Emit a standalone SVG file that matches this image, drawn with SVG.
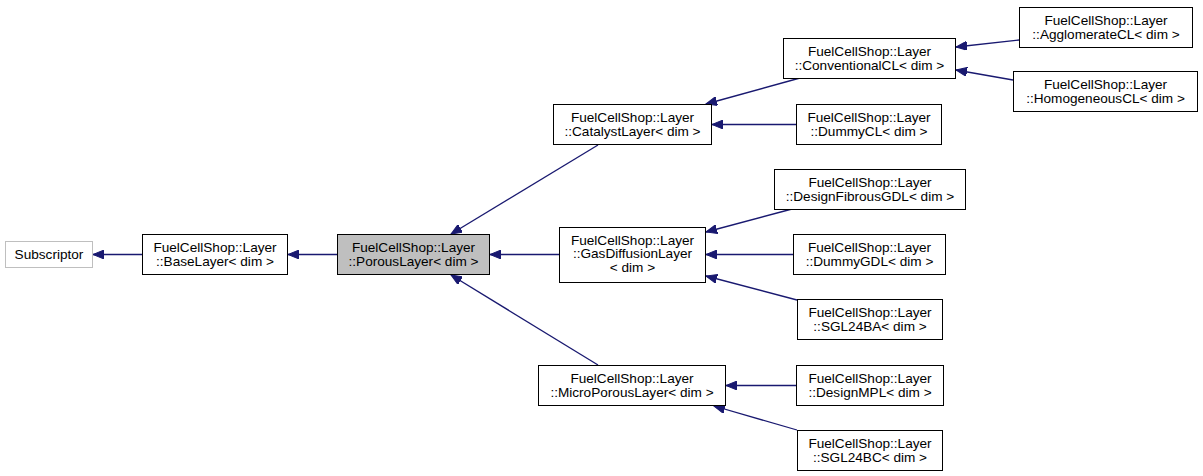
<svg xmlns="http://www.w3.org/2000/svg" width="1203" height="476" viewBox="0 0 1203 476">
<style>
.n{fill:#ffffff;stroke:#000000;stroke-width:1}
.g{fill:#bfbfbf;stroke:#000000;stroke-width:1}
.s{fill:#ffffff;stroke:#bfbfbf;stroke-width:1}
text{font-family:"Liberation Sans",Arial,sans-serif;font-size:13.6px;fill:#000000;text-anchor:middle}
.e{stroke:#191970;stroke-width:1.3;fill:none;marker-end:url(#arr)}
</style>
<defs>
<marker id="arr" markerUnits="userSpaceOnUse" markerWidth="12" markerHeight="9" refX="11" refY="4.5" orient="auto">
<path d="M0,0 L11,4.5 L0,9 z" fill="#191970" stroke="#191970" stroke-width="1"/>
</marker>
</defs>
<rect width="1203" height="476" fill="#ffffff"/>
<g id="edges">
<line class="e" x1="142" y1="254.5" x2="93" y2="254.5"/>
<line class="e" x1="337" y1="254.5" x2="288" y2="254.5"/>
<line class="e" x1="559" y1="254.5" x2="490" y2="254.5"/>
<line class="e" x1="598" y1="145" x2="451" y2="234"/>
<line class="e" x1="598" y1="365" x2="451" y2="275"/>
<line class="e" x1="800" y1="78" x2="706" y2="104"/>
<line class="e" x1="796" y1="124.5" x2="712" y2="124.5"/>
<line class="e" x1="1019" y1="40" x2="956" y2="47"/>
<line class="e" x1="1013" y1="80" x2="956" y2="70"/>
<line class="e" x1="792" y1="209" x2="706" y2="232"/>
<line class="e" x1="793" y1="254.5" x2="706" y2="254.5"/>
<line class="e" x1="797" y1="300" x2="706" y2="276"/>
<line class="e" x1="796" y1="385.5" x2="726" y2="385.5"/>
<line class="e" x1="797" y1="430" x2="714" y2="406"/>
</g>
<g id="Subscriptor">
<rect class="s" x="5.5" y="241.5" width="87" height="26"/>
<text x="49" y="259">Subscriptor</text>
</g>
<g id="BaseLayer">
<rect class="n" x="142.5" y="234.5" width="145" height="40"/>
<text x="215" y="252">FuelCellShop::Layer</text>
<text x="215" y="265.5">::BaseLayer&lt; dim &gt;</text>
</g>
<g id="PorousLayer">
<rect class="g" x="337.5" y="234.5" width="152" height="40"/>
<text x="413.5" y="252">FuelCellShop::Layer</text>
<text x="413.5" y="265.5">::PorousLayer&lt; dim &gt;</text>
</g>
<g id="CatalystLayer">
<rect class="n" x="553.5" y="104.5" width="158" height="40"/>
<text x="632.5" y="122">FuelCellShop::Layer</text>
<text x="632.5" y="135.5">::CatalystLayer&lt; dim &gt;</text>
</g>
<g id="ConventionalCL">
<rect class="n" x="783.5" y="38.5" width="172" height="40"/>
<text x="869.5" y="56">FuelCellShop::Layer</text>
<text x="869.5" y="69.5">::ConventionalCL&lt; dim &gt;</text>
</g>
<g id="DummyCL">
<rect class="n" x="796.5" y="104.5" width="145" height="40"/>
<text x="869" y="122">FuelCellShop::Layer</text>
<text x="869" y="135.5">::DummyCL&lt; dim &gt;</text>
</g>
<g id="AgglomerateCL">
<rect class="n" x="1019.5" y="7.5" width="173" height="40"/>
<text x="1106" y="25">FuelCellShop::Layer</text>
<text x="1106" y="38.5">::AgglomerateCL&lt; dim &gt;</text>
</g>
<g id="HomogeneousCL">
<rect class="n" x="1013.5" y="71.5" width="184" height="40"/>
<text x="1105.5" y="89">FuelCellShop::Layer</text>
<text x="1105.5" y="102.5">::HomogeneousCL&lt; dim &gt;</text>
</g>
<g id="GasDiffusionLayer">
<rect class="n" x="559.5" y="227.5" width="146" height="55"/>
<text x="632.5" y="244.5">FuelCellShop::Layer</text>
<text x="632.5" y="258">::GasDiffusionLayer</text>
<text x="632.5" y="271.5">&lt; dim &gt;</text>
</g>
<g id="DesignFibrousGDL">
<rect class="n" x="774.5" y="169.5" width="191" height="40"/>
<text x="870" y="187">FuelCellShop::Layer</text>
<text x="870" y="200.5">::DesignFibrousGDL&lt; dim &gt;</text>
</g>
<g id="DummyGDL">
<rect class="n" x="793.5" y="234.5" width="152" height="40"/>
<text x="869.5" y="252">FuelCellShop::Layer</text>
<text x="869.5" y="265.5">::DummyGDL&lt; dim &gt;</text>
</g>
<g id="SGL24BA">
<rect class="n" x="797.5" y="299.5" width="145" height="40"/>
<text x="870" y="317">FuelCellShop::Layer</text>
<text x="870" y="330.5">::SGL24BA&lt; dim &gt;</text>
</g>
<g id="MicroPorousLayer">
<rect class="n" x="538.5" y="365.5" width="187" height="40"/>
<text x="632" y="383">FuelCellShop::Layer</text>
<text x="632" y="396.5">::MicroPorousLayer&lt; dim &gt;</text>
</g>
<g id="DesignMPL">
<rect class="n" x="796.5" y="365.5" width="147" height="40"/>
<text x="870" y="383">FuelCellShop::Layer</text>
<text x="870" y="396.5">::DesignMPL&lt; dim &gt;</text>
</g>
<g id="SGL24BC">
<rect class="n" x="797.5" y="430.5" width="145" height="40"/>
<text x="870" y="448">FuelCellShop::Layer</text>
<text x="870" y="461.5">::SGL24BC&lt; dim &gt;</text>
</g>
</svg>
